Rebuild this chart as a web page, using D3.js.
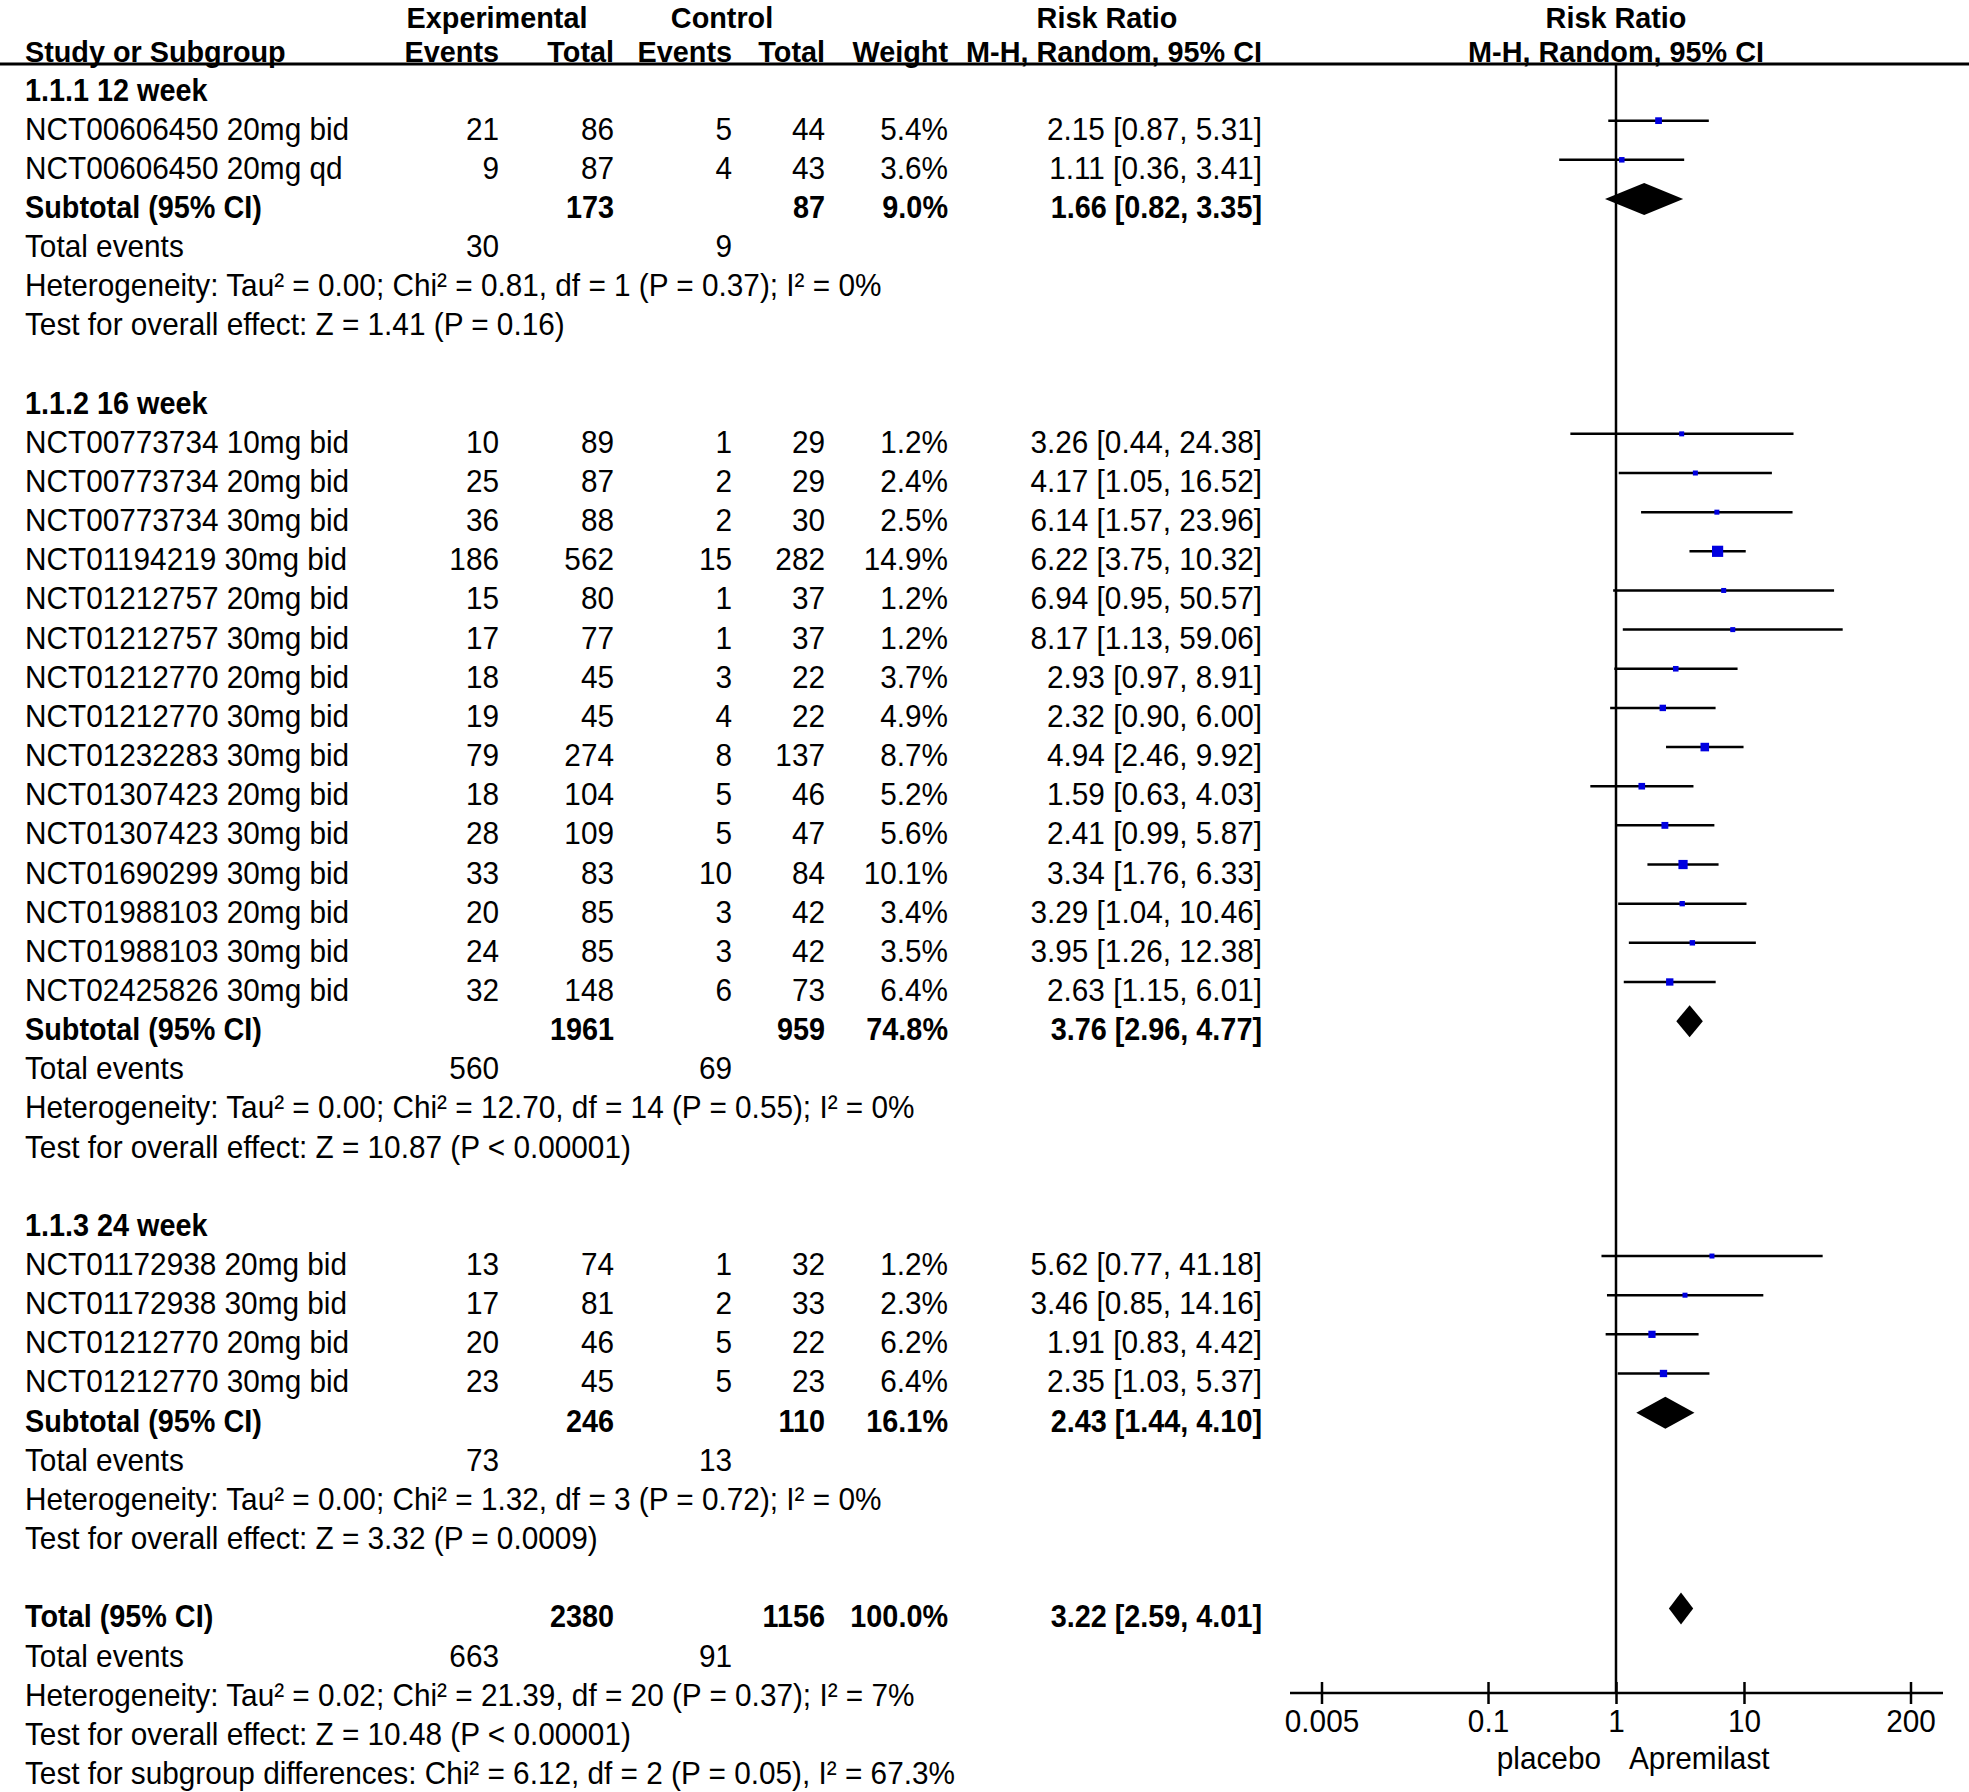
<!DOCTYPE html>
<html>
<head>
<meta charset="utf-8">
<script src="https://cdn.jsdelivr.net/npm/d3@7"></script>
<style>
  html, body { margin: 0; padding: 0; background: #fff; }
  svg { display: block; }
  text { font-family: "Liberation Sans", Arial, sans-serif; fill: #000; }
</style>
</head>
<body>
<svg id="chart" width="1969" height="1792"></svg>
<script>
// ---------------- DATA ----------------
const groupLabels = ["1.1.1 12 week", "1.1.2 16 week", "1.1.3 24 week"];

const studyNames = [
  "NCT00606450 20mg bid", "NCT00606450 20mg qd",
  "NCT00773734 10mg bid", "NCT00773734 20mg bid", "NCT00773734 30mg bid",
  "NCT01194219 30mg bid", "NCT01212757 20mg bid", "NCT01212757 30mg bid",
  "NCT01212770 20mg bid", "NCT01212770 30mg bid", "NCT01232283 30mg bid",
  "NCT01307423 20mg bid", "NCT01307423 30mg bid", "NCT01690299 30mg bid",
  "NCT01988103 20mg bid", "NCT01988103 30mg bid", "NCT02425826 30mg bid",
  "NCT01172938 20mg bid", "NCT01172938 30mg bid", "NCT01212770 20mg bid",
  "NCT01212770 30mg bid"
];
const studyGroup = [0,0, 1,1,1,1,1,1,1,1,1,1,1,1,1,1,1, 2,2,2,2];
const expEvents = [21, 9, 10, 25, 36, 186, 15, 17, 18, 19, 79, 18, 28, 33, 20, 24, 32, 13, 17, 20, 23];
const expTotal  = [86, 87, 89, 87, 88, 562, 80, 77, 45, 45, 274, 104, 109, 83, 85, 85, 148, 74, 81, 46, 45];
const ctlEvents = [5, 4, 1, 2, 2, 15, 1, 1, 3, 4, 8, 5, 5, 10, 3, 3, 6, 1, 2, 5, 5];
const ctlTotal  = [44, 43, 29, 29, 30, 282, 37, 37, 22, 22, 137, 46, 47, 84, 42, 42, 73, 32, 33, 22, 23];
const weights   = [5.4, 3.6, 1.2, 2.4, 2.5, 14.9, 1.2, 1.2, 3.7, 4.9, 8.7, 5.2, 5.6, 10.1, 3.4, 3.5, 6.4, 1.2, 2.3, 6.2, 6.4];
const rr        = [2.15, 1.11, 3.26, 4.17, 6.14, 6.22, 6.94, 8.17, 2.93, 2.32, 4.94, 1.59, 2.41, 3.34, 3.29, 3.95, 2.63, 5.62, 3.46, 1.91, 2.35];
const ciLow     = [0.87, 0.36, 0.44, 1.05, 1.57, 3.75, 0.95, 1.13, 0.97, 0.90, 2.46, 0.63, 0.99, 1.76, 1.04, 1.26, 1.15, 0.77, 0.85, 0.83, 1.03];
const ciHigh    = [5.31, 3.41, 24.38, 16.52, 23.96, 10.32, 50.57, 59.06, 8.91, 6.00, 9.92, 4.03, 5.87, 6.33, 10.46, 12.38, 6.01, 41.18, 14.16, 4.42, 5.37];

const subExpTotal  = [173, 1961, 246];
const subCtlTotal  = [87, 959, 110];
const subWeight    = [9.0, 74.8, 16.1];
const subRR        = [1.66, 3.76, 2.43];
const subLow       = [0.82, 2.96, 1.44];
const subHigh      = [3.35, 4.77, 4.10];
const subExpEvents = [30, 560, 73];
const subCtlEvents = [9, 69, 13];
const subHetero = [
  "Heterogeneity: Tau² = 0.00; Chi² = 0.81, df = 1 (P = 0.37); I² = 0%",
  "Heterogeneity: Tau² = 0.00; Chi² = 12.70, df = 14 (P = 0.55); I² = 0%",
  "Heterogeneity: Tau² = 0.00; Chi² = 1.32, df = 3 (P = 0.72); I² = 0%"
];
const subTest = [
  "Test for overall effect: Z = 1.41 (P = 0.16)",
  "Test for overall effect: Z = 10.87 (P < 0.00001)",
  "Test for overall effect: Z = 3.32 (P = 0.0009)"
];

const totalExpTotal = 2380, totalCtlTotal = 1156, totalWeight = 100.0;
const totalRR = 3.22, totalLow = 2.59, totalHigh = 4.01;
const totalExpEvents = 663, totalCtlEvents = 91;
const totalLines = [
  "Heterogeneity: Tau² = 0.02; Chi² = 21.39, df = 20 (P = 0.37); I² = 7%",
  "Test for overall effect: Z = 10.48 (P < 0.00001)",
  "Test for subgroup differences: Chi² = 6.12, df = 2 (P = 0.05), I² = 67.3%"
];

const tickValues = [0.005, 0.1, 1, 10, 200];
const tickLabels = ["0.005", "0.1", "1", "10", "200"];
const favourLeft = "placebo", favourRight = "Apremilast";

// ---------------- LAYOUT ----------------
const FS = 32, SX = 0.93, SXB = 0.9;
const HFS = 30, SXH = 0.96;
const svg = d3.select("#chart");
const colName = 25, colEE = 499, colET = 614, colCE = 732, colCT = 825, colW = 948, colRR = 1262;

function txt(x, y, s, anchor, bold, fs, sx) {
  svg.append("text")
    .attr("transform", `translate(${x},${y}) scale(${sx || (bold ? SXB : SX)},1)`)
    .attr("text-anchor", anchor || "start")
    .attr("font-size", fs || FS)
    .attr("font-weight", bold ? "bold" : "normal")
    .text(s);
}
const head = (x, y, s, anchor) => txt(x, y, s, anchor, true, HFS, SXH);
const fmt2 = d3.format(".2f");
const fmtW = w => d3.format(".1f")(w) + "%";
const ciStr = (r, l, h) => `${fmt2(r)} [${fmt2(l)}, ${fmt2(h)}]`;

// build row list
const rows = [];
groupLabels.forEach((g, gi) => {
  rows.push({type: "group", gi});
  studyNames.forEach((n, i) => { if (studyGroup[i] === gi) rows.push({type: "study", i}); });
  rows.push({type: "subtotal", gi});
  rows.push({type: "subevents", gi});
  rows.push({type: "subhet", gi});
  rows.push({type: "subtest", gi});
  rows.push({type: "blank"});
});
rows.push({type: "total"});
rows.push({type: "totevents"});
totalLines.forEach((l, k) => rows.push({type: "totline", k}));

const y = d3.scaleLinear().domain([0, rows.length - 1]).range([89, 1772.5]);
const x = d3.scaleLog().domain([0.005, 200]).range([1321.5, 1910.5]);
const BASE = 11.5;   // text baseline offset from row centre
const MOFF = -7.5;   // marker offset from row centre
const axisY = 1693, headLineY = 64;

// headers
const h1 = 28, h2 = 62;
head(497, h1, "Experimental", "middle");
head(722, h1, "Control", "middle");
head(1107, h1, "Risk Ratio", "middle");
head(x(1), h1, "Risk Ratio", "middle");
head(colName, h2, "Study or Subgroup", "start");
head(colEE, h2, "Events", "end");
head(colET, h2, "Total", "end");
head(colCE, h2, "Events", "end");
head(colCT, h2, "Total", "end");
head(colW, h2, "Weight", "end");
head(colRR, h2, "M-H, Random, 95% CI", "end");
head(x(1), h2, "M-H, Random, 95% CI", "middle");

svg.append("line").attr("x1", 0).attr("x2", 1969).attr("y1", headLineY).attr("y2", headLineY)
  .attr("stroke", "#000").attr("stroke-width", 3);

// vertical line of no effect
svg.append("line").attr("x1", x(1)).attr("x2", x(1)).attr("y1", headLineY).attr("y2", axisY)
  .attr("stroke", "#000").attr("stroke-width", 2.5);

const diamond = (r, l, h, cy) => {
  const hh = 16;
  return `M${x(l)},${cy} L${x(r)},${cy - hh} L${x(h)},${cy} L${x(r)},${cy + hh} Z`;
};

rows.forEach((r, ri) => {
  const cy = y(ri), by = cy + BASE, my = cy + MOFF;
  if (r.type === "group") {
    txt(colName, by, groupLabels[r.gi], "start", true);
  } else if (r.type === "study") {
    const i = r.i;
    txt(colName, by, studyNames[i]);
    txt(colEE, by, expEvents[i], "end");
    txt(colET, by, expTotal[i], "end");
    txt(colCE, by, ctlEvents[i], "end");
    txt(colCT, by, ctlTotal[i], "end");
    txt(colW, by, fmtW(weights[i]), "end");
    txt(colRR, by, ciStr(rr[i], ciLow[i], ciHigh[i]), "end");
    svg.append("line").attr("x1", x(ciLow[i])).attr("x2", x(ciHigh[i]))
      .attr("y1", my).attr("y2", my).attr("stroke", "#000").attr("stroke-width", 2.5);
    const s = Math.max(5, 2.9 * Math.sqrt(weights[i]));
    svg.append("rect").attr("x", x(rr[i]) - s / 2).attr("y", my - s / 2)
      .attr("width", s).attr("height", s).attr("fill", "#0000e0");
  } else if (r.type === "subtotal") {
    const g = r.gi;
    txt(colName, by, "Subtotal (95% CI)", "start", true);
    txt(colET, by, subExpTotal[g], "end", true);
    txt(colCT, by, subCtlTotal[g], "end", true);
    txt(colW, by, fmtW(subWeight[g]), "end", true);
    txt(colRR, by, ciStr(subRR[g], subLow[g], subHigh[g]), "end", true);
    svg.append("path").attr("d", diamond(subRR[g], subLow[g], subHigh[g], my)).attr("fill", "#000");
  } else if (r.type === "subevents") {
    txt(colName, by, "Total events");
    txt(colEE, by, subExpEvents[r.gi], "end");
    txt(colCE, by, subCtlEvents[r.gi], "end");
  } else if (r.type === "subhet") {
    txt(colName, by, subHetero[r.gi]);
  } else if (r.type === "subtest") {
    txt(colName, by, subTest[r.gi]);
  } else if (r.type === "total") {
    txt(colName, by, "Total (95% CI)", "start", true);
    txt(colET, by, totalExpTotal, "end", true);
    txt(colCT, by, totalCtlTotal, "end", true);
    txt(colW, by, fmtW(totalWeight), "end", true);
    txt(colRR, by, ciStr(totalRR, totalLow, totalHigh), "end", true);
    svg.append("path").attr("d", diamond(totalRR, totalLow, totalHigh, my)).attr("fill", "#000");
  } else if (r.type === "totevents") {
    txt(colName, by, "Total events");
    txt(colEE, by, totalExpEvents, "end");
    txt(colCE, by, totalCtlEvents, "end");
  } else if (r.type === "totline") {
    txt(colName, by, totalLines[r.k]);
  }
});

// axis
svg.append("line").attr("x1", 1290).attr("x2", 1943).attr("y1", axisY).attr("y2", axisY)
  .attr("stroke", "#000").attr("stroke-width", 2.5);
const axis = d3.axisBottom(x).tickValues(tickValues).tickFormat((d, i) => tickLabels[i]).tickSize(0);
const ag = svg.append("g").attr("transform", `translate(0,${axisY})`).call(axis);
ag.select(".domain").remove();
ag.selectAll(".tick line").attr("y1", -11).attr("y2", 11).attr("stroke", "#000").attr("stroke-width", 2.5);
ag.selectAll(".tick text").attr("font-size", FS).attr("font-family", "Liberation Sans, Arial, sans-serif")
  .attr("fill", "#000").attr("y", 0).attr("dy", null)
  .attr("transform", `translate(0,${38.5}) scale(${SX},1)`);
txt(x(1) - 15, 1769, favourLeft, "end");
txt(x(1) + 13, 1769, favourRight, "start");
</script>
</body>
</html>
